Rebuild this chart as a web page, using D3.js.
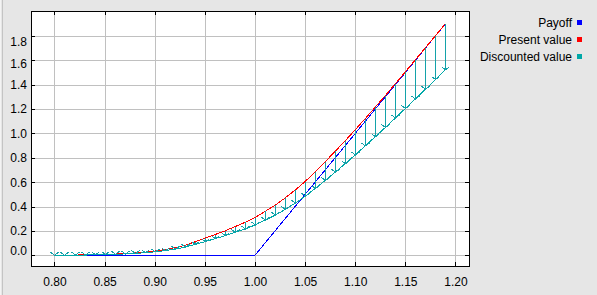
<!DOCTYPE html>
<html>
<head>
<meta charset="utf-8">
<script src="https://cdn.jsdelivr.net/npm/d3@7"></script>
<style>
  body { margin: 0; background: #e6e6e6; }
  svg { display: block; font-family: "Liberation Sans", Arial, sans-serif; }
</style>
</head>
<body>
<svg id="chart"></svg>
<script>
// underlying price, one point per 0.01
var spot = [0.80, 0.81, 0.82, 0.83, 0.84, 0.85, 0.86, 0.87, 0.88, 0.89,
            0.90, 0.91, 0.92, 0.93, 0.94, 0.95, 0.96, 0.97, 0.98, 0.99,
            1.00, 1.01, 1.02, 1.03, 1.04, 1.05, 1.06, 1.07, 1.08, 1.09,
            1.10, 1.11, 1.12, 1.13, 1.14, 1.15, 1.16, 1.17, 1.18, 1.19]

var payoff = [0, 0, 0, 0, 0, 0, 0, 0, 0, 0,
              0, 0, 0, 0, 0, 0, 0, 0, 0, 0,
              0, 0.1, 0.2, 0.3, 0.4, 0.5, 0.6, 0.7, 0.8, 0.9,
              1.0, 1.1, 1.2, 1.3, 1.4, 1.5, 1.6, 1.7, 1.8, 1.9]

var presentValue = [0.000, 0.001, 0.002, 0.003, 0.005, 0.007, 0.010, 0.014, 0.019, 0.026,
                    0.035, 0.047, 0.062, 0.082, 0.110, 0.140, 0.170, 0.200, 0.235, 0.270,
                    0.310, 0.360, 0.410, 0.470, 0.535, 0.605, 0.685, 0.768, 0.853, 0.940,
                    1.030, 1.122, 1.216, 1.311, 1.408, 1.506, 1.604, 1.703, 1.802, 1.902]

var discountedValue = [0.000, 0.001, 0.002, 0.002, 0.004, 0.006, 0.008, 0.011, 0.015, 0.021,
                       0.028, 0.038, 0.050, 0.066, 0.088, 0.112, 0.136, 0.160, 0.188, 0.216,
                       0.248, 0.288, 0.328, 0.376, 0.428, 0.484, 0.548, 0.614, 0.682, 0.752,
                       0.824, 0.898, 0.973, 1.049, 1.126, 1.205, 1.283, 1.362, 1.442, 1.522]

var xTicks = [0.80, 0.85, 0.90, 0.95, 1.00, 1.05, 1.10, 1.15, 1.20]
var yTicks = [0.0, 0.2, 0.4, 0.6, 0.8, 1.0, 1.2, 1.4, 1.6, 1.8]

var seriesNames = ["Payoff", "Present value", "Discounted value"]
var seriesColors = ["#0000ff", "#ff0000", "#00a8a8"]

var width = 597, height = 295
var plot = {left: 31, top: 11, right: 469, bottom: 266}

var svg = d3.select("#chart")
  .attr("width", width)
  .attr("height", height)

svg.append("rect")
  .attr("width", width).attr("height", height)
  .attr("fill", "#e6e6e6")

// window edge on the left
svg.append("line").attr("x1", 0.5).attr("x2", 0.5).attr("y1", 0).attr("y2", height)
  .attr("stroke", "#f4f4f4")
svg.append("line").attr("x1", 2.5).attr("x2", 2.5).attr("y1", 0).attr("y2", height)
  .attr("stroke", "#c4c4c4")

var x = d3.scaleLinear()
  .domain([0.7766, 1.2135])
  .range([plot.left, plot.right])

var y = d3.scaleLinear()
  .domain([-0.0878, 2.005])
  .range([plot.bottom, plot.top])

svg.append("rect")
  .attr("x", plot.left).attr("y", plot.top)
  .attr("width", plot.right - plot.left).attr("height", plot.bottom - plot.top)
  .attr("fill", "#fff")

// grid
var grid = svg.append("g").attr("stroke", "#c0c0c0").attr("shape-rendering", "crispEdges")
grid.selectAll(".vx").data(xTicks).join("line")
  .attr("x1", d => Math.round(x(d)) + 0.5).attr("x2", d => Math.round(x(d)) + 0.5)
  .attr("y1", plot.top).attr("y2", plot.bottom)
grid.selectAll(".hy").data(yTicks).join("line")
  .attr("y1", d => Math.round(y(d)) + 0.5).attr("y2", d => Math.round(y(d)) + 0.5)
  .attr("x1", plot.left).attr("x2", plot.right)

var points = spot.map((s, i) => ({s: s, pay: payoff[i], pv: presentValue[i], dv: discountedValue[i]}))

var line = key => d3.line().x(d => x(d.s)).y(d => y(d[key]))

var marks = svg.append("g").attr("fill", "none").attr("shape-rendering", "crispEdges")

marks.append("path").datum(points)
  .attr("d", line("pay")).attr("stroke", seriesColors[0])
marks.append("path").datum(points)
  .attr("d", line("pv")).attr("stroke", seriesColors[1])
marks.append("path").datum(points)
  .attr("d", line("dv")).attr("stroke", seriesColors[2])

// arrows from present value down to discounted value
var arrows = marks.append("g").attr("stroke", "#14a2aa")
arrows.selectAll("line").data(points).join("line")
  .attr("x1", d => Math.round(x(d.s)) + 0.5).attr("x2", d => Math.round(x(d.s)) + 0.5)
  .attr("y1", d => y(d.pv)).attr("y2", d => y(d.dv))
arrows.selectAll("path").data(points).join("path")
  .attr("d", d => {
    var ax = Math.round(x(d.s)) + 0.5, ay = y(d.dv)
    return `M${ax - 4},${ay - 3}L${ax},${ay}L${ax + 4},${ay - 3}`
  })

// frame and inward ticks
var axes = svg.append("g").attr("shape-rendering", "crispEdges")

axes.append("g")
  .attr("transform", `translate(0,${plot.bottom})`)
  .call(d3.axisBottom(x).tickValues(xTicks).tickSize(-4).tickSizeOuter(0).tickPadding(11)
    .tickFormat(d3.format(".2f")))
axes.append("g")
  .attr("transform", `translate(0,${plot.top})`)
  .call(d3.axisTop(x).tickValues(xTicks).tickSize(-4).tickSizeOuter(0).tickFormat(""))
axes.append("g")
  .attr("transform", `translate(${plot.left},0)`)
  .call(d3.axisLeft(y).tickValues(yTicks).tickSize(-4).tickSizeOuter(0).tickPadding(4)
    .tickFormat(d3.format(".1f")))
  .call(g => g.selectAll("text")
    .attr("dy", d => d === 1.8 ? "0.8em" : d === 1.6 ? "0.6em" : d === 0 ? "-0.1em" : "0.32em"))
axes.append("g")
  .attr("transform", `translate(${plot.right},0)`)
  .call(d3.axisRight(y).tickValues(yTicks).tickSize(-4).tickSizeOuter(0).tickFormat(""))

axes.selectAll(".domain").remove()
axes.selectAll(".tick line").attr("stroke", "#000")
axes.selectAll(".tick text").attr("fill", "#000").attr("font-size", 12)
  .attr("font-family", "'Liberation Sans', Arial, sans-serif")

axes.append("rect")
  .attr("x", plot.left + 0.5).attr("y", plot.top + 0.5)
  .attr("width", plot.right - plot.left).attr("height", plot.bottom - plot.top)
  .attr("fill", "none").attr("stroke", "#000")

// legend
var legend = svg.append("g").attr("font-size", 12)
seriesNames.forEach((name, i) => {
  var by = 27 + i * 17
  legend.append("text")
    .attr("x", 572).attr("y", by)
    .attr("text-anchor", "end").attr("fill", "#000")
    .text(name)
  legend.append("rect")
    .attr("x", 577).attr("y", by - 7)
    .attr("width", 5).attr("height", 5)
    .attr("fill", seriesColors[i])
})
</script>
</body>
</html>
